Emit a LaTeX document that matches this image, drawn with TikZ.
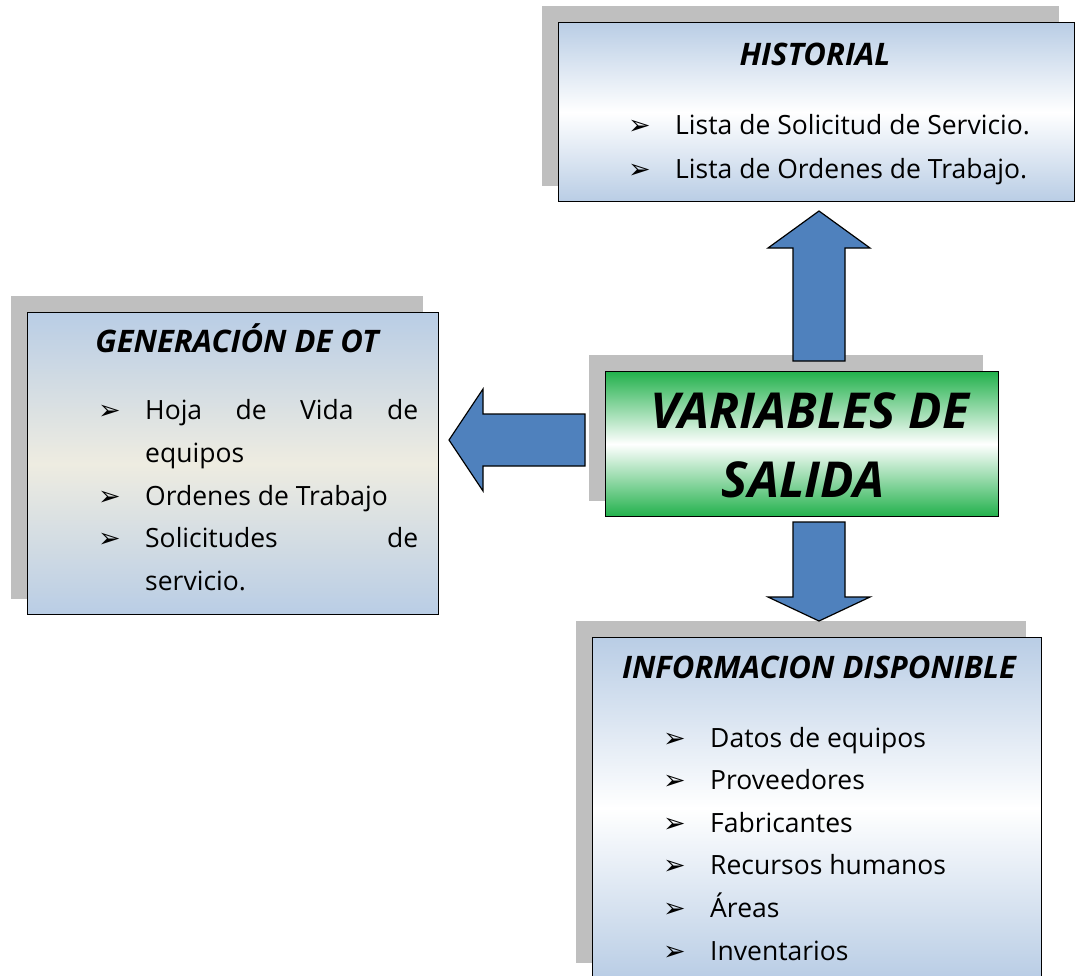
\documentclass[tikz,border=0pt]{standalone}
\usepackage{fontspec}
\setmainfont{Open Sans}
\newfontfamily\dingfont{DejaVu Sans}
\usetikzlibrary{calc,backgrounds}
\definecolor{boxblue}{HTML}{B9CDE5}
\definecolor{boxtan}{HTML}{EEECE1}
\definecolor{boxgreen}{HTML}{22B14C}
\definecolor{arrowblue}{HTML}{4F81BD}
\definecolor{shgray}{HTML}{BFBFBF}
\newcommand\bodyfont{\fontsize{26.5}{30}\selectfont}
\newcommand\titlefont{\fontsize{31}{34}\selectfont\bfseries\itshape}
\newcommand\bigfont{\fontsize{49.5}{52}\selectfont\bfseries\itshape}
\newcommand\bul{\makebox[47pt][l]{\fontsize{27}{27}\selectfont\dingfont ➢}}
\newcommand\blockarrow[5]{%
  \coordinate (bahead) at ($(#2)!#5!(#1)$);
  \filldraw[barrow] ($(#1)!#3!90:(#2)$) -- ($(bahead)!#3!90:(#2)$) -- ($(bahead)!#4!90:(#2)$) -- (#2)
    -- ($(bahead)!#4!-90:(#2)$) -- ($(bahead)!#3!-90:(#2)$) -- ($(#1)!#3!-90:(#2)$) -- cycle;}
\begin{document}
\begin{tikzpicture}[x=1pt,y=-1pt,
  panel/.style={draw=black, line width=1.2pt, inner sep=0pt, anchor=north west, shade,
    top color=boxblue, bottom color=boxblue, middle color=white},
  tanpanel/.style={panel, top color=boxblue, bottom color=boxblue, middle color=boxtan},
  greenpanel/.style={panel, top color=boxgreen, bottom color=boxgreen, middle color=white},
  barrow/.style={fill=arrowblue, draw=black, line width=1.2pt, line join=miter},
  title/.style={anchor=base, inner sep=0pt, font=\titlefont},
  bigtitle/.style={anchor=base, inner sep=0pt, font=\bigfont},
  item/.style={anchor=base west, inner sep=0pt, font=\bodyfont}]
\useasboundingbox (0,0) rectangle (1076,975);

% boxes
\node[panel, minimum width=516pt, minimum height=179pt] (hist) at (558,22) {};
\node[tanpanel, minimum width=411pt, minimum height=302pt] (gen) at (27,312) {};
\node[greenpanel, minimum width=393pt, minimum height=145pt] (var) at (605,371) {};
\node[panel, minimum width=449pt, minimum height=341pt] (info) at (592,637) {};

% shadows
\begin{pgfonlayer}{background}
  \fill[white] (0,0) rectangle (1076,975);
  \foreach \b in {hist,gen,var,info}
    \fill[shgray] ([shift={(-16,-16)}]\b.south west) rectangle ([shift={(-16,-16)}]\b.north east);
\end{pgfonlayer}

% HISTORIAL
\node[title] (histt) at (815,65) {HISTORIAL};
\node[item] (hist1) at (628,134) {\bul Lista de Solicitud de Servicio.};
\node[item] (hist2) at (628,178) {\bul Lista de Ordenes de Trabajo.};

% GENERACION DE OT
\node[title] (gent) at (237,352) {GENERACIÓN DE OT};
\node[item] (gen1) at (98,419) {\bul\hbox to 273pt{Hoja\hfill de\hfill Vida\hfill de}};
\node[item] (gen2) at (145,462) {equipos};
\node[item] (gen3) at (98,505) {\bul Ordenes de Trabajo};
\node[item] (gen4) at (98,547.5) {\bul\hbox to 273pt{Solicitudes\hfill de}};
\node[item] (gen5) at (145,590) {servicio.};

% VARIABLES DE SALIDA
\node[bigtitle] (var1) at (810,428) {VARIABLES DE};
\node[bigtitle] (var2) at (803,497) {SALIDA};

% INFORMACION DISPONIBLE
\node[title] (infot) at (819,678) {INFORMACION DISPONIBLE};
\node[item] (info1) at (663,747) {\bul Datos de equipos};
\node[item] (info2) at (663,789.6) {\bul Proveedores};
\node[item] (info3) at (663,832.2) {\bul Fabricantes};
\node[item] (info4) at (663,874.8) {\bul Recursos humanos};
\node[item] (info5) at (663,917.4) {\bul Áreas};
\node[item] (info6) at (663,960) {\bul Inventarios};

% block arrows
\coordinate (upA) at (819,361);
\coordinate (upB) at (819,211);
\coordinate (leftA) at (585,440);
\coordinate (leftB) at (449,440);
\coordinate (downA) at (819,522);
\coordinate (downB) at (819,621);
\blockarrow{upA}{upB}{26pt}{51pt}{37pt}
\blockarrow{leftA}{leftB}{26pt}{51pt}{34pt}
\blockarrow{downA}{downB}{26pt}{51pt}{24pt}
\end{tikzpicture}
\end{document}
